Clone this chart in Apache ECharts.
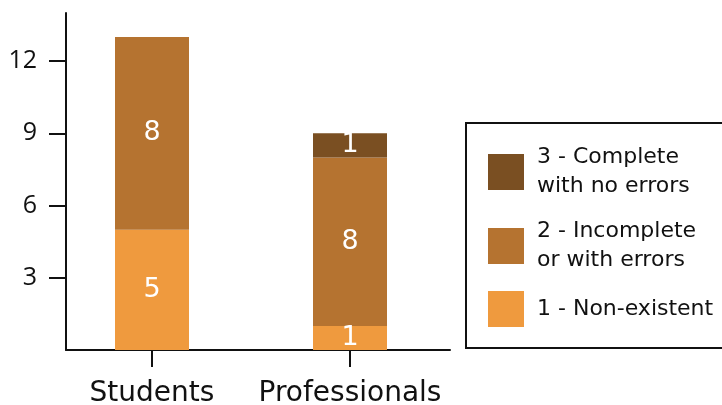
<!DOCTYPE html>
<html><head><meta charset="utf-8">
<script src="https://cdn.jsdelivr.net/npm/echarts@6/dist/echarts.min.js"></script>
<style>html,body{margin:0;padding:0;background:#fff}#c{width:722px;height:405px}</style>
</head><body><div id="c"></div>
<script>
const categories = ['Students', 'Professionals'];
// segment heights as drawn in the reference
const nonExistent = [5, 1];
const incomplete = [8, 7];
const complete = [0, 1];
// value labels as printed in the reference
const nonExistentLabels = ['5', '1'];
const incompleteLabels = ['8', '8'];
const completeLabels = ['', '1'];
const yTicks = [3, 6, 9, 12];
const seriesNames = ['1 - Non-existent', '2 - Incomplete\nor with errors', '3 - Complete\nwith no errors'];

const FONT = '"DejaVu Sans"';
const colors = ['#EF9A3E', '#B57330', '#7A4F22'];
const chart = echarts.init(document.getElementById('c'), null, {renderer: 'canvas'});
function mk(name, data, labels, color) {
  return {
    name: name, type: 'bar', stack: 'a', data: data, barWidth: 74,
    xAxisIndex: 0, yAxisIndex: 0,
    itemStyle: {color: color},
    label: {show: true, position: 'inside', color: '#fff', fontSize: 27, fontFamily: FONT,
      formatter: p => labels[p.dataIndex]}
  };
}
const axisColor = '#111';
chart.setOption({
  animation: false,
  grid: [
    {left: 53, top: 13, width: 396, height: 337, outerBoundsMode: 'none'},
    {left: 66, top: 13, width: 384, height: 337, outerBoundsMode: 'none'}
  ],
  xAxis: [{
    gridIndex: 0, type: 'category', data: categories,
    axisLine: {show: false},
    axisTick: {show: true, interval: 0, length: 17, alignWithLabel: true, lineStyle: {color: axisColor, width: 2}},
    axisLabel: {interval: 0, color: axisColor, fontSize: 28, fontFamily: FONT, margin: 30, hideOverlap: false}
  }, {
    gridIndex: 1, type: 'value', min: 0, max: 1,
    axisLine: {show: true, onZero: false, lineStyle: {color: axisColor, width: 2}},
    axisTick: {show: false}, axisLabel: {show: false}, splitLine: {show: false}
  }],
  yAxis: [{
    gridIndex: 0, type: 'value', min: 0, max: 14, show: false
  }, {
    gridIndex: 1, type: 'value', min: 0, max: 14,
    splitLine: {show: false},
    axisLine: {show: true, lineStyle: {color: axisColor, width: 2}},
    axisTick: {show: true, length: 17, customValues: yTicks, lineStyle: {color: axisColor, width: 2}},
    axisLabel: {color: axisColor, fontSize: 25, fontFamily: '"Open Sans"', margin: 29, customValues: yTicks}
  }],
  legend: {
    left: 466, top: 123, orient: 'vertical',
    data: [seriesNames[2], seriesNames[1], seriesNames[0]],
    borderColor: axisColor, borderWidth: 2, padding: [20, 20, 21, 22],
    itemWidth: 36, itemHeight: 36, itemGap: 16, icon: 'rect',
    textStyle: {color: axisColor, fontSize: 22, fontFamily: FONT, lineHeight: 29, padding: [0, 0, 0, 8]}
  },
  series: [
    mk(seriesNames[0], nonExistent, nonExistentLabels, colors[0]),
    mk(seriesNames[1], incomplete, incompleteLabels, colors[1]),
    mk(seriesNames[2], complete, completeLabels, colors[2])
  ]
});
</script></body></html>
